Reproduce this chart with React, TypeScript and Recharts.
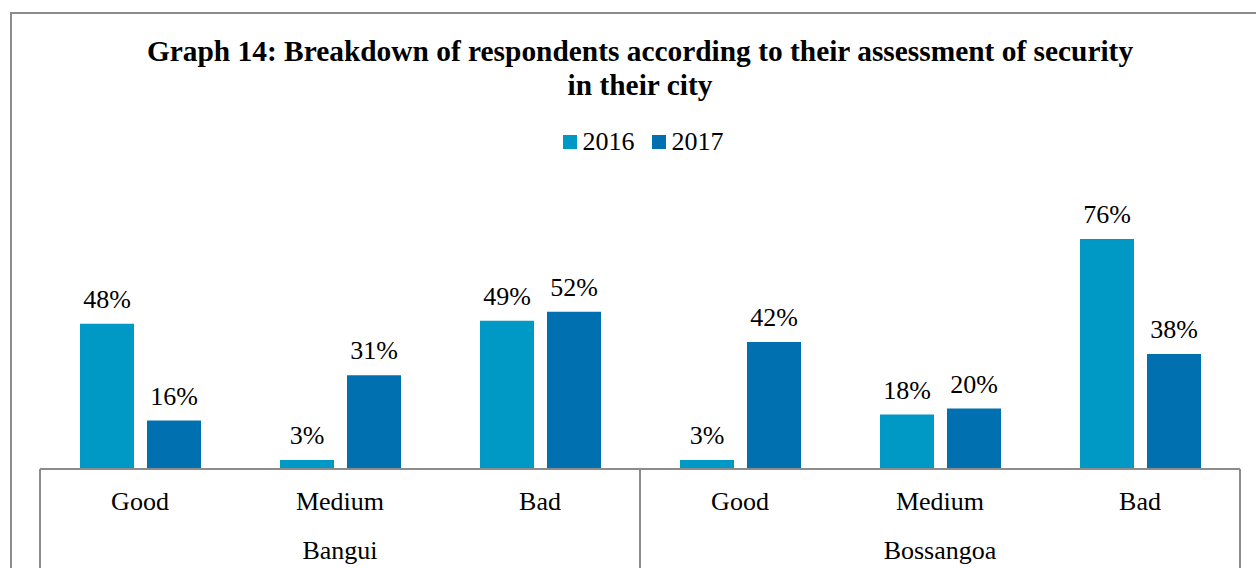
import { Bar, BarChart, LabelList, Legend, XAxis, YAxis } from "recharts";

const categories = ["Good", "Medium", "Bad", "Good", "Medium", "Bad"];
const cities = ["Bangui", "Bangui", "Bangui", "Bossangoa", "Bossangoa", "Bossangoa"];
const values2016 = [48, 3, 49, 3, 18, 76];
const values2017 = [16, 31, 52, 42, 20, 38];

const data = categories.map((cat, i) => ({
  cat,
  city: cities[i],
  y2016: values2016[i],
  y2017: values2017[i],
}));

const W = 1256;
const H = 568;
const MARGIN = { top: 227, right: 16, left: 40, bottom: 0 };
const PLOT_W = W - MARGIN.left - MARGIN.right;
const HALF_BAND = PLOT_W / data.length / 2;
const AXIS_H = 99;
const FONT = '"Liberation Serif", "Times New Roman", serif';
const GREY = "#8c8c8c";

const CategoryTick = (props: any) => {
  const { x, y, index, payload } = props;
  const row = data[index];
  const firstOfGroup = index === 0 || cities[index - 1] !== cities[index];
  const lastOfGroup = index === data.length - 1;
  const middleOfGroup = index === 1 || index === 4;
  return (
    <g>
      <text x={x} y={y + 41} textAnchor="middle" fontFamily={FONT} fontSize={26} fill="#000">
        {payload.value}
      </text>
      {middleOfGroup && (
        <text x={x} y={y + 90} textAnchor="middle" fontFamily={FONT} fontSize={26} fill="#000">
          {row.city}
        </text>
      )}
      {firstOfGroup && (
        <line x1={x - HALF_BAND} x2={x - HALF_BAND} y1={y} y2={y + AXIS_H} stroke={GREY} strokeWidth={2} />
      )}
      {lastOfGroup && (
        <line x1={x + HALF_BAND} x2={x + HALF_BAND} y1={y} y2={y + AXIS_H} stroke={GREY} strokeWidth={2} />
      )}
    </g>
  );
};

const LegendContent = (props: any) => {
  const { payload } = props;
  return (
    <div style={{ display: "flex", justifyContent: "center", fontFamily: FONT, fontSize: 26, lineHeight: "30px" }}>
      {(payload || []).map((item: any, i: number) => (
        <div key={item.value} style={{ display: "flex", alignItems: "center", marginLeft: i === 0 ? 0 : 17 }}>
          <span style={{ display: "inline-block", width: 14, height: 14, background: item.color, marginRight: 6 }} />
          <span style={{ color: "#000" }}>{item.value}</span>
        </div>
      ))}
    </div>
  );
};

export default function App() {
  return (
    <div style={{ position: "absolute", left: 0, top: 0, width: W, height: H, background: "#fff", overflow: "hidden" }}>
      <div
        style={{
          position: "absolute",
          left: 10,
          top: 12,
          width: W,
          height: H,
          borderLeft: `2px solid ${GREY}`,
          borderTop: `2px solid ${GREY}`,
        }}
      />
      <div
        style={{
          position: "absolute",
          left: 10,
          top: 34,
          width: 1260,
          textAlign: "center",
          fontFamily: FONT,
          fontWeight: "bold",
          fontSize: 29.4,
          lineHeight: "34px",
          color: "#000",
        }}
      >
        Graph 14: Breakdown of respondents according to their assessment of security
        <br />
        in their city
      </div>
      <div style={{ position: "absolute", left: 0, top: 0 }}>
        <BarChart width={W} height={H} data={data} margin={MARGIN} barCategoryGap={40} barGap={13}>
          <XAxis
            dataKey="cat"
            height={AXIS_H}
            tickLine={false}
            tickSize={0}
            tickMargin={0}
            interval={0}
            axisLine={{ stroke: GREY, strokeWidth: 2 }}
            tick={<CategoryTick />}
          />
          <YAxis hide domain={[0, 80]} />
          <Legend
            verticalAlign="middle"
            align="center"
            wrapperStyle={{ top: 127, left: 30, width: 1226 }}
            content={<LegendContent />}
          />
          <Bar dataKey="y2016" name="2016" fill="#0099c6" isAnimationActive={false}>
            <LabelList
              dataKey="y2016"
              position="top"
              offset={16}
              formatter={(v: any) => `${v}%`}
              style={{ fontFamily: FONT, fontSize: 26, fill: "#000" }}
            />
          </Bar>
          <Bar dataKey="y2017" name="2017" fill="#0070b0" isAnimationActive={false}>
            <LabelList
              dataKey="y2017"
              position="top"
              offset={16}
              formatter={(v: any) => `${v}%`}
              style={{ fontFamily: FONT, fontSize: 26, fill: "#000" }}
            />
          </Bar>
        </BarChart>
      </div>
    </div>
  );
}
